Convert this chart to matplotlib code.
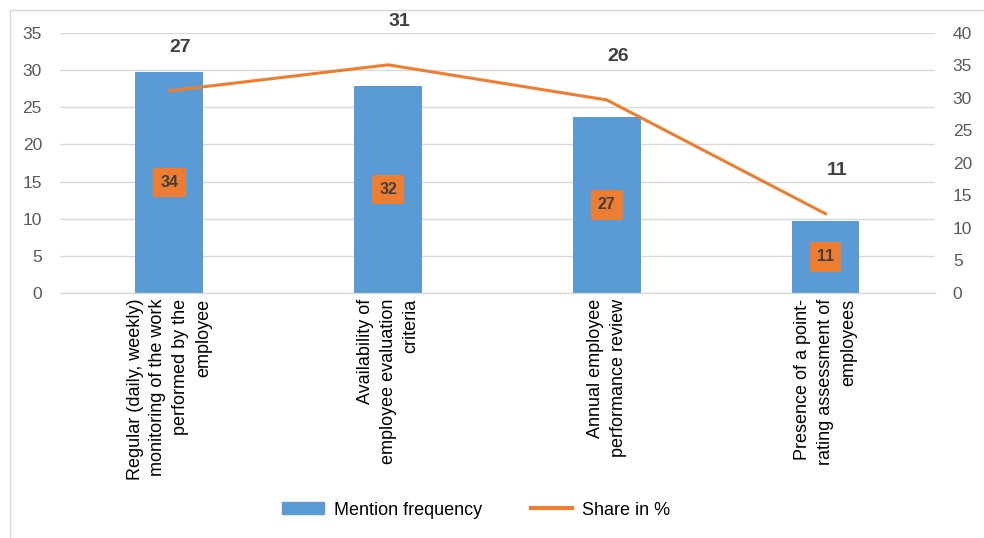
import matplotlib.pyplot as plt
from matplotlib.patches import Rectangle
from matplotlib.lines import Line2D
from matplotlib.patches import Patch

plt.rcParams['font.family'] = ['Liberation Sans', 'DejaVu Sans']

# data
categories = [
    "Regular (daily, weekly)\nmonitoring of the work\nperformed by the\nemployee",
    "Availability of\nemployee evaluation\ncriteria",
    "Annual employee\nperformance review",
    "Presence of a point-\nrating assessment of\nemployees",
]
mention_freq = [29.7, 27.9, 23.7, 9.7]
share_pct = [31.1, 35.1, 29.7, 12.2]
bar_labels = ["34", "32", "27", "11"]
line_labels = ["27", "31", "26", "11"]

blue = "#5b9bd5"
orange = "#ed7d31"
grey = "#595959"

fig = plt.figure(figsize=(9.84, 5.38), dpi=100)
ax = fig.add_axes([0.061, 0.4554, 0.889, 0.4833])
ax2 = ax.twinx()

x = list(range(len(categories)))
ax.bar(x, mention_freq, width=0.31, color=blue, zorder=2)
ax.set_xlim(-0.5, len(categories) - 0.5)
ax.set_ylim(0, 35)
ax.set_yticks(range(0, 36, 5))
ax.grid(axis='y', color='#d9d9d9', linewidth=1, zorder=0)
ax.set_axisbelow(True)

for i, v in enumerate(mention_freq):
    ax.text(i, v / 2, bar_labels[i], ha='center', va='center', fontsize=11.5,
            fontweight='bold', color='#404040', zorder=4,
            bbox=dict(boxstyle='square,pad=0.45', fc=orange, ec='none'))

ax2.plot(x, share_pct, color=orange, linewidth=2.2, zorder=3)
ax2.set_ylim(0, 40)
ax2.set_yticks(range(0, 41, 5))
for i, v in enumerate(share_pct):
    ax2.annotate(line_labels[i], (i, v), xytext=(8, 31), textcoords='offset points',
                 ha='center', va='center', fontsize=14, fontweight='bold',
                 color='#404040')

for a in (ax, ax2):
    for s in ('top', 'left', 'right'):
        a.spines[s].set_visible(False)
    a.spines['bottom'].set_color('#d9d9d9')
    a.tick_params(axis='y', length=0, labelsize=12.5, labelcolor=grey, pad=13)

ax.set_xticks(x)
ax.set_xticklabels(categories, rotation=90, ha='center', va='top',
                   multialignment='right', fontsize=13, color='black',
                   linespacing=1.45)
ax.tick_params(axis='x', length=0, pad=4)

handles = [Patch(color=blue), Line2D([], [], color=orange, linewidth=3)]
fig.legend(handles, ["Mention frequency", "Share in %"], loc='center',
           bbox_to_anchor=(0.484, 0.052), ncol=2, frameon=False, fontsize=13,
           handlelength=2.3, handleheight=0.6, handletextpad=0.55,
           columnspacing=2.7)

fig.patches.append(Rectangle((0.01, -0.01), 0.995, 0.992, transform=fig.transFigure,
                             fill=False, edgecolor='#d9d9d9', linewidth=1))

fig.savefig("out.png", dpi=100)
